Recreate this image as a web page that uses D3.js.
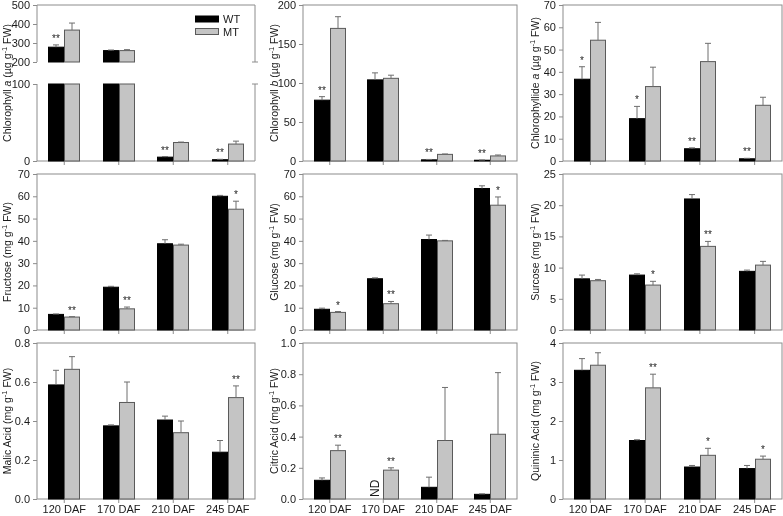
<!DOCTYPE html>
<html><head><meta charset="utf-8">
<script src="https://cdn.jsdelivr.net/npm/d3@7/dist/d3.min.js"></script>
<style>
html,body{margin:0;padding:0;background:#fff;}
svg{display:block;font-family:"Liberation Sans",Arial,sans-serif;filter:grayscale(1);}
</style></head>
<body>
<svg id="c" width="783" height="516"></svg>
<script>
// ---------------- data ----------------
const categories = ["120 DAF", "170 DAF", "210 DAF", "245 DAF"];
const seriesNames = ["WT", "MT"];

const chlA_WT = [278, 260, 5, 1.7];
const chlA_WT_err = [12, 3, 0.8, 0.5];
const chlA_MT = [368, 260, 24, 22];
const chlA_MT_err = [37, 5, 0.6, 3.8];
const chlA_sig = [["WT", "**"], null, ["WT", "**"], ["WT", "**"]];

const chlB_WT = [78, 104, 1.5, 1];
const chlB_WT_err = [4.5, 9, 0.5, 0.3];
const chlB_MT = [170, 106, 8.5, 6.5];
const chlB_MT_err = [15, 4, 0.5, 1.2];
const chlB_sig = [["WT", "**"], null, ["WT", "**"], ["WT", "**"]];

const chlide_WT = [36.7, 19, 5.5, 1];
const chlide_WT_err = [5.6, 5.5, 0.4, 0.2];
const chlide_MT = [54.2, 33.4, 44.6, 25];
const chlide_MT_err = [8, 8.7, 8.2, 3.6];
const chlide_sig = [["WT", "*"], ["WT", "*"], ["WT", "**"], ["WT", "**"]];

const fru_WT = [7, 19.2, 38.7, 60];
const fru_WT_err = [0.2, 0.4, 1.8, 0.4];
const fru_MT = [5.8, 9.5, 38.1, 54.2];
const fru_MT_err = [0.2, 0.8, 0.4, 3.6];
const fru_sig = [["MT", "**"], ["MT", "**"], null, ["MT", "*"]];

const glu_WT = [9.3, 23, 40.6, 63.5];
const glu_WT_err = [0.5, 0.4, 2, 1.2];
const glu_MT = [7.9, 11.8, 40, 56];
const glu_MT_err = [0.4, 1, 0.2, 3.7];
const glu_sig = [["MT", "*"], ["MT", "**"], null, ["MT", "*"]];

const suc_WT = [8.2, 8.8, 21, 9.4];
const suc_WT_err = [0.6, 0.2, 0.7, 0.2];
const suc_MT = [7.9, 7.2, 13.4, 10.4];
const suc_MT_err = [0.2, 0.6, 0.8, 0.6];
const suc_sig = [null, ["MT", "*"], ["MT", "**"], null];

const mal_WT = [0.585, 0.375, 0.405, 0.24];
const mal_WT_err = [0.075, 0.005, 0.02, 0.06];
const mal_MT = [0.665, 0.495, 0.34, 0.52];
const mal_MT_err = [0.065, 0.105, 0.06, 0.06];
const mal_sig = [null, null, null, ["MT", "**"]];

const cit_WT = [0.12, null, 0.075, 0.03];
const cit_WT_err = [0.015, 0, 0.065, 0.003];
const cit_MT = [0.31, 0.185, 0.375, 0.415];
const cit_MT_err = [0.035, 0.015, 0.34, 0.395];
const cit_sig = [["MT", "**"], ["MT", "**"], null, null];

const qui_WT = [3.3, 1.5, 0.82, 0.78];
const qui_WT_err = [0.3, 0.02, 0.04, 0.08];
const qui_MT = [3.43, 2.85, 1.12, 1.02];
const qui_MT_err = [0.32, 0.35, 0.18, 0.08];
const qui_sig = [null, ["MT", "**"], ["MT", "*"], ["MT", "*"]];

const chlA_lowTicks = [0, 100];
const chlA_highTicks = [200, 300, 400, 500];

// ---------------- layout ----------------
const colLeft = [37, 303, 563];
const colWidth = [218, 214, 219];
const rowTop = [5, 174, 343];
const rowHeight = 156;
const frameColor = "#8c8c8c";
const textColor = "#1a1a1a";
const wtFill = "#000000";
const mtFill = "#c4c4c4";
const mtStroke = "#5a5a5a";
const errColor = "#6e6e6e";
const FONT = 11;

const svg = d3.select("#c");

function labelParts(name, italicPart, unit) {
  const parts = [];
  parts.push({t: name});
  if (italicPart) parts.push({t: " "}, {t: italicPart, it: true});
  parts.push({t: " (" + unit + " g"}, {t: "-1", sup: true}, {t: " FW)"});
  return parts;
}

const panels = [
  {r:0,c:0, wt:chlA_WT, wtE:chlA_WT_err, mt:chlA_MT, mtE:chlA_MT_err, sig:chlA_sig, broken:true,
   label: labelParts("Chlorophyll", "a", "µg"), labelX: 11},
  {r:0,c:1, wt:chlB_WT, wtE:chlB_WT_err, mt:chlB_MT, mtE:chlB_MT_err, sig:chlB_sig, domain:[0,200], ticks:d3.range(0,201,50),
   label: labelParts("Chlorophyll", "b", "µg"), labelX: 278},
  {r:0,c:2, wt:chlide_WT, wtE:chlide_WT_err, mt:chlide_MT, mtE:chlide_MT_err, sig:chlide_sig, domain:[0,70], ticks:d3.range(0,71,10),
   label: labelParts("Chlorophyllide", "a", "µg"), labelX: 539},
  {r:1,c:0, wt:fru_WT, wtE:fru_WT_err, mt:fru_MT, mtE:fru_MT_err, sig:fru_sig, domain:[0,70], ticks:d3.range(0,71,10),
   label: labelParts("Fructose", null, "mg"), labelX: 11},
  {r:1,c:1, wt:glu_WT, wtE:glu_WT_err, mt:glu_MT, mtE:glu_MT_err, sig:glu_sig, domain:[0,70], ticks:d3.range(0,71,10),
   label: labelParts("Glucose", null, "mg"), labelX: 278},
  {r:1,c:2, wt:suc_WT, wtE:suc_WT_err, mt:suc_MT, mtE:suc_MT_err, sig:suc_sig, domain:[0,25], ticks:d3.range(0,26,5),
   label: labelParts("Surcose", null, "mg"), labelX: 539},
  {r:2,c:0, wt:mal_WT, wtE:mal_WT_err, mt:mal_MT, mtE:mal_MT_err, sig:mal_sig, domain:[0,0.8], ticks:[0,0.2,0.4,0.6,0.8], fmt:d3.format(".1f"),
   label: labelParts("Malic Acid", null, "mg"), labelX: 11},
  {r:2,c:1, wt:cit_WT, wtE:cit_WT_err, mt:cit_MT, mtE:cit_MT_err, sig:cit_sig, domain:[0,1], ticks:[0,0.2,0.4,0.6,0.8,1.0], fmt:d3.format(".1f"),
   label: labelParts("Citric Acid", null, "mg"), labelX: 278, nd:1},
  {r:2,c:2, wt:qui_WT, wtE:qui_WT_err, mt:qui_MT, mtE:qui_MT_err, sig:qui_sig, domain:[0,4], ticks:d3.range(0,5,1),
   label: labelParts("Quininic Acid", null, "mg"), labelX: 539},
];

function styleAxis(g) {
  g.selectAll("path.domain").remove();
  g.selectAll(".tick line").attr("stroke", frameColor);
  g.selectAll(".tick text").attr("fill", textColor).style("font-size", FONT + "px")
    .style("font-family", '"Liberation Sans",Arial,sans-serif');
}

panels.forEach(p => {
  const cw = colWidth[p.c];
  const x0 = colLeft[p.c], x1 = x0 + cw;
  const y0 = rowTop[p.r], y1 = y0 + rowHeight;
  const g = svg.append("g");

  const xb = d3.scaleBand().domain(categories).range([x0, x1]).padding(0);
  const bw = Math.round(xb.bandwidth() * 0.3);
  const cx = d => Math.round(xb(d) + xb.bandwidth() / 2);

  let yPos;
  if (p.broken) {
    const breakLow = y0 + 79, breakHigh = y0 + 57;
    const yLow = d3.scaleLinear().domain([0, 100]).range([y1, breakLow]);
    const yHigh = d3.scaleLinear().domain([200, 500]).range([breakHigh, y0]);
    const segs = [{s: yLow, ticks: chlA_lowTicks}, {s: yHigh, ticks: chlA_highTicks}];
    yPos = v => v <= 100 ? yLow(v) : yHigh(Math.max(v, 200));
    const fr = g.append("g").attr("fill", "none").attr("stroke", frameColor).attr("stroke-width", 1);
    fr.append("line").attr("x1", x0).attr("x2", x1).attr("y1", y0).attr("y2", y0);
    fr.append("line").attr("x1", x0).attr("x2", x1).attr("y1", y1).attr("y2", y1);
    [x0, x1].forEach(xx => {
      fr.append("line").attr("x1", xx).attr("x2", xx).attr("y1", y0).attr("y2", breakHigh);
      fr.append("line").attr("x1", xx).attr("x2", xx).attr("y1", breakLow).attr("y2", y1);
    });
    [breakHigh, breakLow].forEach(yy => {
      fr.append("line").attr("x1", x1 - 3).attr("x2", x1 + 3).attr("y1", yy).attr("y2", yy);
    });
    segs.forEach(sg => {
      const ax = g.append("g").attr("transform", `translate(${x0},0)`)
        .call(d3.axisLeft(sg.s).tickValues(sg.ticks).tickSize(4).tickSizeOuter(0).tickPadding(3));
      styleAxis(ax);
    });
  } else {
    const y = d3.scaleLinear().domain(p.domain).range([y1, y0]);
    yPos = y;
    g.append("rect").attr("x", x0).attr("y", y0).attr("width", cw).attr("height", rowHeight)
      .attr("fill", "none").attr("stroke", frameColor);
    const ax = g.append("g").attr("transform", `translate(${x0},0)`)
      .call(d3.axisLeft(y).tickValues(p.ticks).tickSize(4).tickSizeOuter(0).tickPadding(3)
        .tickFormat(p.fmt || d3.format("d")));
    styleAxis(ax);
  }

  const xa = g.append("g").attr("transform", `translate(0,${y1})`)
    .call(d3.axisBottom(xb).tickSize(4).tickSizeOuter(0).tickPadding(2));
  styleAxis(xa);
  if (p.r !== 2) xa.selectAll(".tick text").remove();

  const series = [
    {name: "WT", vals: p.wt, errs: p.wtE, fill: wtFill, stroke: "#000", off: -bw},
    {name: "MT", vals: p.mt, errs: p.mtE, fill: mtFill, stroke: mtStroke, off: 0}
  ];
  series.forEach(s => {
    categories.forEach((cat, i) => {
      const v = s.vals[i];
      if (v == null) return;
      const bx = cx(cat) + s.off;
      const drawRect = (from, to) => {
        const ya = yPos(from), yb = yPos(to);
        g.append("rect").attr("x", bx + 0.5).attr("y", Math.min(ya, yb))
          .attr("width", bw - 1).attr("height", Math.abs(ya - yb))
          .attr("fill", s.fill).attr("stroke", s.stroke).attr("stroke-width", 1);
      };
      if (p.broken && v > 100) {
        drawRect(0, 100);
        drawRect(200, v);
      } else {
        drawRect(0, v);
      }
      const e = s.errs[i];
      if (e > 0) {
        const ecx = bx + bw / 2;
        const yt = yPos(v), ye = yPos(v + e);
        if (yt - ye > 0.5) {
          g.append("line").attr("x1", ecx).attr("x2", ecx).attr("y1", yt).attr("y2", ye)
            .attr("stroke", errColor).attr("stroke-width", 1);
        }
        g.append("line").attr("x1", ecx - 3).attr("x2", ecx + 3).attr("y1", ye).attr("y2", ye)
          .attr("stroke", errColor).attr("stroke-width", 1);
      }
    });
  });

  p.sig.forEach((sg, i) => {
    if (!sg) return;
    const s = sg[0] === "WT" ? series[0] : series[1];
    const v = s.vals[i], e = s.errs[i];
    const ecx = cx(categories[i]) + s.off + bw / 2;
    g.append("text").attr("x", ecx).attr("y", yPos(v + e) - 3)
      .attr("text-anchor", "middle").attr("fill", "#222").style("font-size", "10px")
      .text(sg[1]);
  });

  if (p.nd != null) {
    const bx = cx(categories[p.nd]) - bw / 2;
    g.append("text").attr("transform", `translate(${bx + 4},${y1 - 2}) rotate(-90)`)
      .attr("fill", textColor).style("font-size", "12px").text("ND");
  }

  const t = g.append("text").attr("transform", `translate(${p.labelX},${(y0 + y1) / 2}) rotate(-90)`)
    .attr("text-anchor", "middle").attr("fill", textColor).style("font-size", "10.5px");
  let prevSup = false;
  p.label.forEach(part => {
    const ts = t.append("tspan").text(part.t);
    if (part.it) ts.style("font-style", "italic");
    if (part.sup) ts.attr("dy", -4).style("font-size", "7.5px");
    else if (prevSup) ts.attr("dy", 4);
    prevSup = !!part.sup;
  });

  if (p.broken) {
    const lg = g.append("g");
    const lx = x0 + 158;
    [[0, "WT", wtFill, "#000"], [1, "MT", mtFill, mtStroke]].forEach(([k, name, f, st]) => {
      lg.append("rect").attr("x", lx + 0.5).attr("y", y0 + 11 + k * 12.5).attr("width", 23).attr("height", 6)
        .attr("fill", f).attr("stroke", st);
      lg.append("text").attr("x", lx + 28).attr("y", y0 + 18 + k * 12.5).attr("fill", textColor)
        .style("font-size", "11px").text(name);
    });
  }
});
</script>
</body></html>
